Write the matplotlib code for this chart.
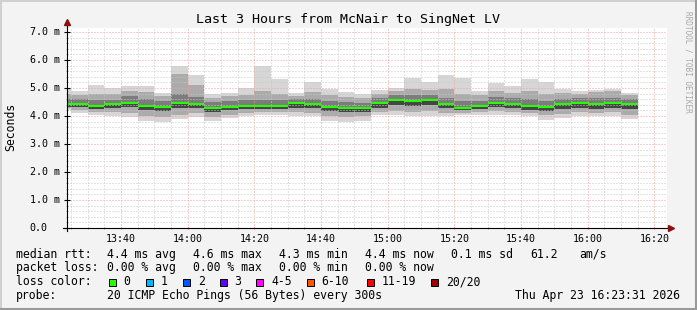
import numpy as np
import pandas as pd
import matplotlib
matplotlib.use('Agg')
import matplotlib.pyplot as plt
import matplotlib.dates as mdates
from matplotlib.lines import Line2D
from matplotlib.patches import Rectangle

# 5 minute slots, first one clipped by the left edge of the graph
slot_start = '2026-04-23 13:20'
n_slots = 35

# median rtt per slot (ms)
median = [4.44, 4.44, 4.37, 4.42, 4.48, 4.37, 4.33, 4.48, 4.44, 4.30, 4.33, 4.36,
          4.36, 4.36, 4.48, 4.42, 4.33, 4.30, 4.30, 4.48, 4.58, 4.55, 4.58, 4.42,
          4.30, 4.36, 4.48, 4.44, 4.37, 4.33, 4.42, 4.48, 4.44, 4.48, 4.42]
# smoke: spread of the 20 pings in each slot (ms)
ping_min = [4.21, 4.10, 4.04, 4.00, 3.95, 3.82, 3.77, 3.88, 3.98, 3.82, 3.92, 4.00,
            4.04, 4.04, 4.00, 4.00, 3.83, 3.77, 3.82, 4.04, 4.04, 4.00, 4.00, 4.00,
            4.04, 4.04, 4.04, 4.04, 4.00, 3.86, 3.94, 4.00, 4.00, 4.00, 3.89]
ping_p10 = [4.28, 4.20, 4.15, 4.15, 4.10, 4.00, 3.95, 4.05, 4.10, 3.98, 4.05, 4.12,
            4.15, 4.15, 4.15, 4.12, 4.00, 3.98, 4.00, 4.15, 4.18, 4.15, 4.18, 4.12,
            4.12, 4.15, 4.18, 4.15, 4.12, 4.02, 4.08, 4.15, 4.12, 4.15, 4.05]
ping_q1 = [4.33, 4.32, 4.25, 4.28, 4.32, 4.20, 4.18, 4.30, 4.28, 4.15, 4.20, 4.24,
           4.24, 4.24, 4.30, 4.28, 4.18, 4.15, 4.15, 4.30, 4.38, 4.35, 4.38, 4.28,
           4.20, 4.24, 4.32, 4.30, 4.22, 4.18, 4.25, 4.30, 4.25, 4.28, 4.25]
ping_q3 = [4.62, 4.60, 4.58, 4.58, 4.72, 4.60, 4.52, 4.80, 4.68, 4.50, 4.52, 4.56,
           4.58, 4.56, 4.62, 4.62, 4.55, 4.50, 4.48, 4.66, 4.76, 4.75, 4.76, 4.65,
           4.55, 4.55, 4.68, 4.66, 4.60, 4.55, 4.62, 4.66, 4.64, 4.66, 4.60]
ping_p90 = [4.80, 4.75, 4.80, 4.78, 4.90, 4.85, 4.70, 5.50, 5.10, 4.65, 4.70, 4.75,
            4.90, 4.78, 4.72, 4.85, 4.75, 4.68, 4.65, 4.80, 4.88, 4.95, 4.92, 4.95,
            4.80, 4.75, 4.90, 4.82, 4.88, 4.78, 4.82, 4.80, 4.85, 4.90, 4.75]
ping_max = [4.99, 4.89, 5.11, 5.00, 5.07, 5.07, 4.81, 5.79, 5.46, 4.77, 4.83, 5.00,
            5.80, 5.32, 4.81, 5.20, 4.98, 4.87, 4.79, 4.92, 5.00, 5.35, 5.20, 5.46,
            5.37, 4.90, 5.19, 5.07, 5.32, 5.20, 4.98, 4.90, 4.93, 4.98, 4.83]

ytick_vals = [0, 1, 2, 3, 4, 5, 6, 7]
ytick_labels = ['0.0', '1.0 m', '2.0 m', '3.0 m', '4.0 m', '5.0 m', '6.0 m', '7.0 m']

loss_labels = ['0', '1', '2', '3', '4-5', '6-10', '11-19', '20/20']
loss_colors = ['#26ff00', '#00b8ff', '#0059ff', '#5e00ff', '#ff00ff', '#ff5500', '#ff0000', '#a10000']

W, H = 697, 310
BG = '#f3f3f3'
MONO = 'DejaVu Sans Mono'


def fx(x):
    return x / W


def fy(y):
    return 1 - y / H


fig = plt.figure(figsize=(W / 100, H / 100), dpi=100, facecolor=BG)
ax = fig.add_axes([fx(67), fy(228), fx(666.7) - fx(67), fy(27.7) - fy(228)])
ax.set_facecolor('white')

edges = pd.date_range(slot_start, periods=n_slots + 1, freq='5min')
enum = mdates.date2num(edges.to_pydatetime())


def ext(v):
    return list(v) + [v[-1]]


# smoke bands, light outside to dark inside
ax.fill_between(enum, ext(ping_min), ext(ping_max), step='post', color='#d6d6d6', lw=0, zorder=1)
ax.fill_between(enum, ext(ping_p10), ext(ping_p90), step='post', color='#ababab', lw=0, zorder=1.1)
ax.fill_between(enum, ext(ping_q1), ext(ping_q3), step='post', color='#7c7c7c', lw=0, zorder=1.2)
ax.fill_between(enum, ext(ping_q1), ext(median), step='post', color='#454545', lw=0, zorder=1.3)

# median, one flat segment per slot (NaN breaks between slots)
seg_x, seg_y = [], []
for i, m in enumerate(median):
    seg_x += [enum[i], enum[i + 1], np.nan]
    seg_y += [m, m, np.nan]
ax.plot(seg_x, seg_y, color=loss_colors[0], lw=1.5, solid_capstyle='butt', zorder=6)

ax.set_xlim(mdates.date2num(pd.Timestamp('2026-04-23 13:23:48')),
            mdates.date2num(pd.Timestamp('2026-04-23 16:23:42')))
ax.set_ylim(0, 7.154)

ax.xaxis.set_major_locator(mdates.MinuteLocator(byminute=[0, 20, 40]))
ax.xaxis.set_minor_locator(mdates.MinuteLocator(byminute=range(0, 60, 5)))
ax.xaxis.set_major_formatter(mdates.DateFormatter('%H:%M'))
ax.set_yticks(ytick_vals)
ax.set_yticks(np.arange(0, 7.1, 0.2), minor=True)
ax.set_yticklabels([])

ax.set_axisbelow(False)
ax.grid(which='minor', color='#c8c8c8', lw=0.72, linestyle=(0, (1, 2)))
ax.grid(which='major', color='#f2a0a0', lw=0.72, linestyle=(0, (1, 2)))

for s in ax.spines.values():
    s.set_visible(False)
ax.tick_params(axis='x', which='major', length=2, color='#ff6060', direction='inout',
               labelsize=7.2, pad=3)
ax.tick_params(axis='x', which='minor', length=2, color='#999999', direction='inout')
ax.tick_params(axis='y', which='major', length=4, color='black', direction='inout', pad=2)
ax.tick_params(axis='y', which='minor', length=2, color='#999999', direction='inout')
for lab in ax.get_xticklabels():
    lab.set_fontfamily(MONO)

# y tick labels, left aligned like rrdtool
for v, lab in zip(ytick_vals, ytick_labels):
    fig.text(fx(29.5), fy(228 - 28 * v), lab, family=MONO, size=7.2, ha='left', va='center')

# axis lines with arrow heads
fig.add_artist(Line2D([fx(67), fx(67)], [fy(231), fy(24)], color='black', lw=0.8))
fig.add_artist(Line2D([fx(63), fx(668)], [fy(228), fy(228)], color='black', lw=0.8))
fig.add_artist(Line2D([fx(67)], [fy(22)], marker='^', ms=4.5, color='#8b1010', lw=0))
fig.add_artist(Line2D([fx(671)], [fy(228)], marker='>', ms=4.5, color='#8b1010', lw=0))

fig.text(fx(348), fy(19), 'Last 3 Hours from McNair to SingNet LV', family=MONO, size=9.6,
         ha='center', va='center')
fig.text(fx(10.5), fy(127), 'Seconds', family=MONO, size=8.3, rotation=90, ha='center', va='center')
fig.text(fx(688), fy(62), 'RRDTOOL / TOBI OETIKER', family=MONO, size=5.6, rotation=-90,
         color='#a8a8a8', ha='center', va='center')

# legend block
rows = [
    (254.3, [('median rtt:', 16), ('4.4 ms avg', 107), ('4.6 ms max', 193), ('4.3 ms min', 279),
             ('4.4 ms now', 365), ('0.1 ms sd', 451), ('61.2', 530), ('am/s', 579)]),
    (267.7, [('packet loss:', 16), ('0.00 % avg', 107), ('0.00 % max', 193), ('0.00 % min', 279),
             ('0.00 % now', 365)]),
    (281.7, [('loss color:', 16)]),
    (295.7, [('probe:', 16), ('20 ICMP Echo Pings (56 Bytes) every 300s', 107)]),
]
for y, items in rows:
    for txt, x in items:
        fig.text(fx(x), fy(y), txt, family=MONO, size=8.3, ha='left', va='center')

box_x = [108.7, 145.7, 182.7, 219.7, 256.3, 306.7, 366.5, 430.7]
for bx, lab, col in zip(box_x, loss_labels, loss_colors):
    fig.add_artist(Rectangle((fx(bx), fy(285.5)), 7 / W, 7 / H, facecolor=col,
                             edgecolor='black', lw=0.7, transform=fig.transFigure))
    fig.text(fx(bx + 15), fy(281.7), lab, family=MONO, size=8.3, ha='left', va='center')

fig.text(fx(680), fy(295.7), 'Thu Apr 23 16:23:31 2026', family=MONO, size=8.3, ha='right', va='center')

# frame shading
fig.add_artist(Line2D([0, 1], [fy(1), fy(1)], color='#d0d0d0', lw=1.5))
fig.add_artist(Line2D([fx(1), fx(1)], [0, 1], color='#d0d0d0', lw=1.5))
fig.add_artist(Line2D([0, 1], [fy(308.5), fy(308.5)], color='#9a9a9a', lw=2.2))
fig.add_artist(Line2D([fx(695.5), fx(695.5)], [0, 1], color='#9a9a9a', lw=2.2))

fig.savefig('out.png', dpi=100, facecolor=BG)
